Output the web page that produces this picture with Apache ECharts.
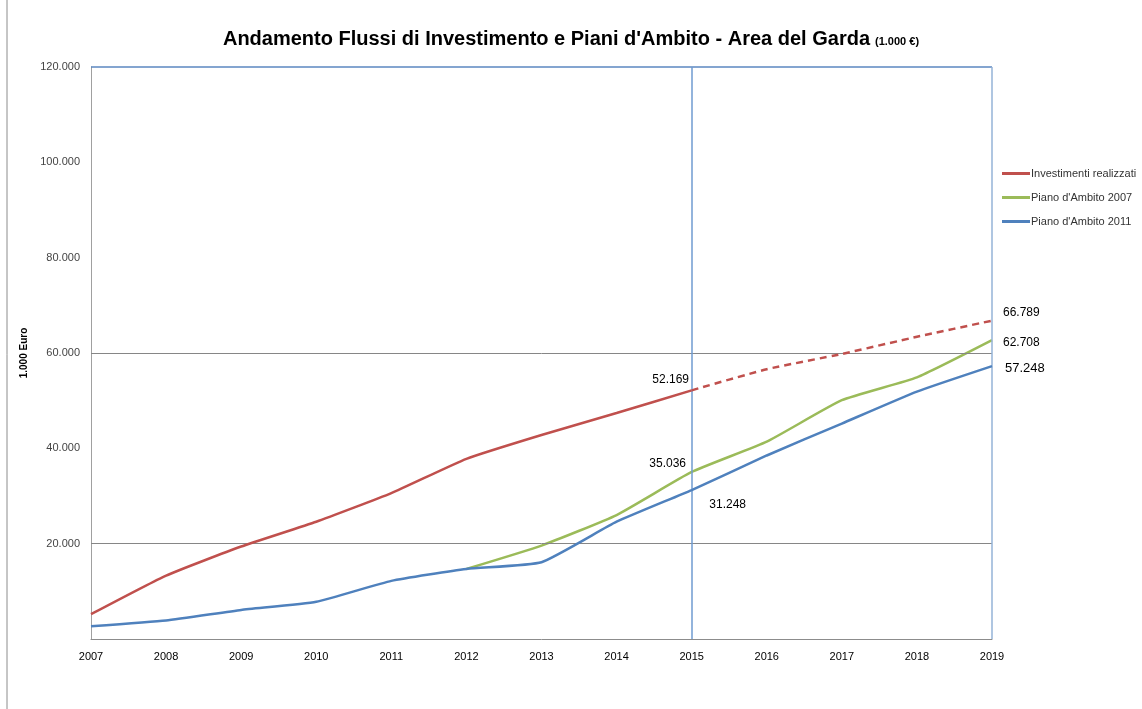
<!DOCTYPE html>
<html>
<head>
<meta charset="utf-8">
<script src="https://cdn.jsdelivr.net/npm/echarts@6/dist/echarts.min.js"></script>
<style>
  html, body { margin: 0; padding: 0; background: #fff; }
  #chart { width: 1142px; height: 709px; }
</style>
</head>
<body>
<div id="chart"></div>
<script>
  // dati (migliaia di euro)
  const anni = ['2007', '2008', '2009', '2010', '2011', '2012', '2013', '2014', '2015', '2016', '2017', '2018', '2019']
  const investimenti = [5200, 13300, 19400, 24600, 30600, 37800, 42800, 47400, 52169, 56600, 59800, 63400, 66789]
  const piano2007 = [null, null, null, null, null, 14700, 19600, 26000, 35036, 41400, 50100, 54900, 62708]
  const piano2011 = [2700, 3900, 6100, 7800, 12200, 14700, 16100, 24600, 31248, 38500, 45200, 51900, 57248]
  const nomi = ['Investimenti realizzati', "Piano d'Ambito 2007", "Piano d'Ambito 2011"]
  const yTicks = [0, 20000, 40000, 60000, 80000, 100000, 120000]

  const rosso = '#C0504D'
  const verde = '#9BBB59'
  const blu = '#4F81BD'
  const idx2015 = anni.indexOf('2015')
  const idxLast = anni.length - 1

  const fmt = v => v.toLocaleString('de-DE')

  // etichette dei valori su alcuni punti
  function conEtichette(arr, labels) {
    return arr.map((v, i) => {
      if (labels[i]) {
        return {
          value: v,
          label: Object.assign({
            show: true,
            color: '#000',
            fontSize: 12,
            fontFamily: 'Liberation Sans',
            formatter: p => fmt(p.value)
          }, labels[i])
        }
      }
      return v
    })
  }

  const redSolid = investimenti.map((v, i) => i <= idx2015 ? v : null)
  const redDash = investimenti.map((v, i) => i >= idx2015 ? v : null)

  const chart = echarts.init(document.getElementById('chart'))

  chart.setOption({
    animation: false,
    textStyle: { fontFamily: 'Liberation Sans' },
    title: {
      text: "{t|Andamento Flussi di Investimento e Piani d'Ambito - Area del Garda} {s|(1.000 €)}",
      left: 'center',
      top: 24,
      textStyle: {
        rich: {
          t: { fontSize: 20, fontWeight: 'bold', color: '#000', fontFamily: 'Liberation Sans' },
          s: { fontSize: 11, fontWeight: 'bold', color: '#000', fontFamily: 'Liberation Sans', padding: [6, 0, 0, 0] }
        }
      }
    },
    legend: {
      orient: 'vertical',
      left: 997,
      top: 163,
      data: nomi,
      icon: 'rect',
      itemWidth: 28,
      itemHeight: 3,
      itemGap: 13,
      textStyle: { fontSize: 11, color: '#333', padding: [0, 0, 0, -4] }
    },
    grid: { left: 91, right: 150, top: 67, bottom: 70 },
    xAxis: {
      type: 'category',
      data: anni,
      boundaryGap: false,
      axisLine: { lineStyle: { color: '#8C8C8C' } },
      axisTick: { show: false },
      axisLabel: { color: '#000', fontSize: 11, margin: 12 },
      splitLine: { show: false }
    },
    yAxis: {
      type: 'value',
      min: yTicks[0],
      max: yTicks[yTicks.length - 1],
      interval: yTicks[1] - yTicks[0],
      name: '1.000 Euro',
      nameLocation: 'middle',
      nameRotate: 90,
      nameGap: 55,
      nameTextStyle: { fontSize: 10, fontWeight: 'bold', color: '#000' },
      axisLine: { show: true, lineStyle: { color: '#A0A0A0' } },
      axisTick: { show: false },
      axisLabel: {
        color: '#444',
        fontSize: 11,
        margin: 11,
        formatter: v => v === 0 ? '' : fmt(v)
      },
      splitLine: { show: false }
    },
    graphic: [{
      type: 'line',
      shape: { x1: 7, y1: 0, x2: 7, y2: 709 },
      style: { stroke: '#8C8C8C', lineWidth: 1 }
    }],
    series: [
      {
        name: nomi[0],
        type: 'line',
        data: conEtichette(redSolid, { [idx2015]: { position: 'top', offset: [-21, 0] } }),
        symbol: 'circle',
        symbolSize: 0,
        showAllSymbol: true,
        smooth: 0.15,
        lineStyle: { color: rosso, width: 2.5 },
        itemStyle: { color: rosso },
        z: 5,
        markLine: {
          silent: true,
          symbol: 'none',
          label: { show: false },
          data: [
            { yAxis: 20000, lineStyle: { color: '#868686', width: 1, type: 'solid' } },
            { yAxis: 60000, lineStyle: { color: '#868686', width: 1, type: 'solid' } },
            { yAxis: 120000, lineStyle: { color: '#5B87C0', width: 1.5, type: 'solid' } },
            { xAxis: anni[idxLast], lineStyle: { color: '#95B3D7', width: 1.5, type: 'solid' } },
            { xAxis: '2015', lineStyle: { color: '#6F9BD1', width: 1.5, type: 'solid' } }
          ]
        }
      },
      {
        name: nomi[0],
        type: 'line',
        data: conEtichette(redDash, { [idxLast]: { position: 'right', offset: [6, -8] } }),
        symbol: 'circle',
        symbolSize: 0,
        showAllSymbol: true,
        smooth: 0.15,
        lineStyle: { color: rosso, width: 2.5, type: [7, 5] },
        itemStyle: { color: rosso },
        z: 5
      },
      {
        name: nomi[1],
        type: 'line',
        data: conEtichette(piano2007, {
          [idx2015]: { position: 'top', offset: [-24, 3] },
          [idxLast]: { position: 'right', offset: [6, 3] }
        }),
        symbol: 'circle',
        symbolSize: 0,
        showAllSymbol: true,
        smooth: 0.15,
        lineStyle: { color: verde, width: 2.5 },
        itemStyle: { color: verde },
        z: 4
      },
      {
        name: nomi[2],
        type: 'line',
        data: conEtichette(piano2011, {
          [idx2015]: { position: 'bottom', offset: [36, 4] },
          [idxLast]: { position: 'right', offset: [8, 2], fontSize: 13 }
        }),
        symbol: 'circle',
        symbolSize: 0,
        showAllSymbol: true,
        smooth: 0.15,
        lineStyle: { color: blu, width: 2.5 },
        itemStyle: { color: blu },
        z: 6
      }
    ]
  })
</script>
</body>
</html>
